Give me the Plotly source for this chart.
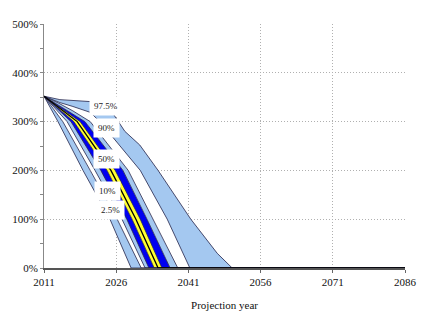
import plotly.graph_objects as go

# Percentile paths of the projection (year, value in %)
yr_p2_5 = [2011, 2013.9, 2019.1, 2024.7, 2029.1, 2086]
v_p2_5 = [352, 300, 200, 100, 0, 0]
yr_p5 = [2011, 2014.9, 2020.6, 2026.2, 2031.2, 2086]
v_p5 = [352, 300, 200, 100, 0, 0]
yr_p10 = [2011, 2015.8, 2021.6, 2027.2, 2032.0, 2086]
v_p10 = [352, 300, 200, 100, 0, 0]
yr_p25 = [2011, 2016.6, 2022.8, 2028.2, 2032.8, 2086]
v_p25 = [352, 300, 200, 100, 0, 0]
yr_p40 = [2011, 2017.2, 2024.1, 2029.3, 2033.9, 2086]
v_p40 = [352, 300, 200, 100, 0, 0]
yr_p50 = [2011, 2017.9, 2024.9, 2030.1, 2034.7, 2086]
v_p50 = [352, 300, 200, 100, 0, 0]
yr_p60 = [2011, 2018.5, 2025.8, 2031.0, 2035.5, 2086]
v_p60 = [352, 300, 200, 100, 0, 0]
yr_p75 = [2011, 2019.5, 2027.4, 2032.4, 2037.2, 2086]
v_p75 = [352, 300, 200, 100, 0, 0]
yr_p90 = [2011, 2014, 2017, 2020.6, 2028.5, 2033.6, 2038.8, 2086]
v_p90 = [352, 338, 322, 300, 200, 100, 0, 0]
yr_p95 = [2011, 2014.3, 2017, 2020.6, 2022.6, 2031.0, 2036.6, 2041.3, 2086]
v_p95 = [352, 339, 331, 319, 300, 200, 100, 0, 0]
yr_p97_5 = [2011, 2014.3, 2020.6, 2025.3, 2027.8, 2030.9, 2034.7, 2041.5, 2047.0, 2050.1, 2086]
v_p97_5 = [352, 345, 341, 317, 280, 252, 200, 100, 30, 0, 0]

labels = ["97.5%", "90%", "50%", "10%", "2.5%"]
label_x = [2023.9, 2023.9, 2023.9, 2024.1, 2024.9]
label_y = [333, 286, 224, 157, 119]

x_ticks = [2011, 2026, 2041, 2056, 2071, 2086]
y_ticks = [0, 100, 200, 300, 400, 500]
y_tick_text = ["0%", "100%", "200%", "300%", "400%", "500%"]

LB = "#A4C8F0"
BLUE = "#0000F0"
YEL = "#FFFF30"
WHITE = "#FFFFFF"
EDGE = "#23234a"
SERIF = "Times New Roman, Liberation Serif, serif"

paths = [
    (yr_p2_5, v_p2_5), (yr_p5, v_p5), (yr_p10, v_p10), (yr_p25, v_p25),
    (yr_p40, v_p40), (yr_p60, v_p60), (yr_p75, v_p75), (yr_p90, v_p90),
    (yr_p95, v_p95), (yr_p97_5, v_p97_5),
]
band_colors = [LB, WHITE, LB, BLUE, YEL, BLUE, LB, WHITE, LB]

fig = go.Figure()
for i, col in enumerate(band_colors):
    (xa, ya), (xb, yb) = paths[i], paths[i + 1]
    fig.add_trace(go.Scatter(
        x=list(xa) + list(xb)[::-1], y=list(ya) + list(yb)[::-1],
        fill="toself", fillcolor=col, mode="lines", line=dict(width=0),
        hoverinfo="skip", showlegend=False))

for xs, ys in paths:
    fig.add_trace(go.Scatter(x=xs, y=ys, mode="lines",
                             line=dict(color=EDGE, width=0.8),
                             hoverinfo="skip", showlegend=False))
fig.add_trace(go.Scatter(x=yr_p50, y=v_p50, mode="lines",
                         line=dict(color="black", width=1.3),
                         hoverinfo="skip", showlegend=False))

for t, x, y in zip(labels, label_x, label_y):
    fig.add_annotation(x=x, y=y, text=t, showarrow=False, bgcolor="white",
                       borderpad=4,
                       font=dict(family=SERIF, size=9, color="#222"))

font = dict(family=SERIF, size=11, color="#111")
grid_dash = "1px,2px"
fig.update_layout(
    width=432, height=322, margin=dict(l=44, r=27, t=24, b=50),
    paper_bgcolor="white", plot_bgcolor="white", font=font, showlegend=False,
    xaxis=dict(range=[2011, 2086], tickvals=x_ticks, ticks="outside", ticklen=3,
               tickcolor="#666", showgrid=True, gridcolor="#B0B0B0", griddash=grid_dash,
               gridwidth=1, zeroline=False, showline=True, linecolor="#555",
               linewidth=1.5, tickfont=font,
               title=dict(text="Projection year", standoff=14, font=font)),
    yaxis=dict(range=[0, 500], tickvals=y_ticks, ticktext=y_tick_text, ticks="outside",
               ticklen=3, tickcolor="#888", showgrid=True, gridcolor="#B0B0B0",
               griddash=grid_dash, gridwidth=1, zeroline=False, showline=True,
               linecolor="#888", linewidth=1, tickfont=font,
               minor=dict(dtick=50, ticks="outside", ticklen=3, tickcolor="#888",
                          showgrid=False)),
)
fig.write_html("out.html")
